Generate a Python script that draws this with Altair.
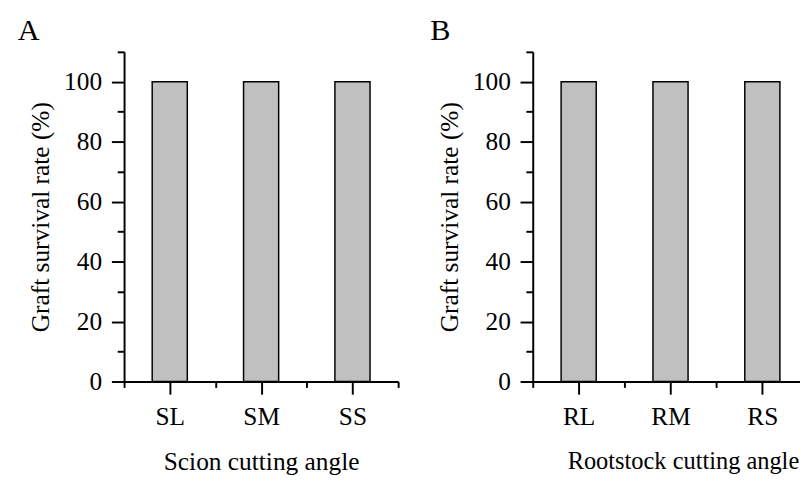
import altair as alt
import pandas as pd

# ---- data ----
scion_labels = ["SL", "SM", "SS"]
scion_rates = [100, 100, 100]
root_labels = ["RL", "RM", "RS"]
root_rates = [100, 100, 100]
y_ticks = [0, 10, 20, 30, 40, 50, 60, 70, 80, 90, 100, 110]

FONT = "Liberation Serif"


def label_expr(labels):
    parts = " : ".join(
        f"datum.value === {i + 1} ? '{lab}'" for i, lab in enumerate(labels)
    )
    return parts + " : ''"


def panel(letter, labels, rates, xtitle, width, xmax, title_x=None, title_size=26,
          t_offset=-8, t_dx=-8):
    df = pd.DataFrame({"pos": list(range(1, len(labels) + 1)),
                       "cat": labels, "rate": rates})
    xvals = [v / 2 for v in range(1, 2 * len(labels) + 2) if v / 2 <= xmax]
    xaxis_kw = dict(
        values=xvals,
        labelExpr=label_expr(labels),
        tickSize={"condition": {"test": "datum.value % 1 === 0", "value": 13}, "value": 6},
        labelOverlap=False,
        labelFlush=False,
        labelPadding=10,
        title=xtitle,
        titleFontSize=title_size,
        titlePadding=20,
        grid=False,
    )
    if title_x is not None:
        xaxis_kw["titleX"] = title_x
    chart = alt.Chart(df).mark_bar(
        size=36, fill="#c0c0c0", stroke="black", strokeWidth=1.5
    ).encode(
        x=alt.X("pos:Q",
                scale=alt.Scale(domain=[0.5, xmax], nice=False, zero=False, padding=0),
                axis=alt.Axis(**xaxis_kw)),
        y=alt.Y("rate:Q",
                scale=alt.Scale(domain=[0, 110], nice=False, padding=0),
                axis=alt.Axis(
                    values=y_ticks,
                    labelExpr="datum.value % 20 === 0 ? datum.label : ''",
                    tickSize={"condition": {"test": "datum.value % 20 === 0", "value": 13}, "value": 7},
                    labelOverlap=False,
                    labelFlush=False,
                    labelPadding=10,
                    title="Graft survival rate (%)",
                    titlePadding=10,
                    grid=False,
                )),
    ).properties(
        width=width,
        height=338,
        title=alt.TitleParams(letter, anchor="start", frame="bounds", fontSize=31,
                              font=FONT, fontWeight="normal", color="black",
                              offset=t_offset, dx=t_dx),
    )
    return chart


a = panel("A", scion_labels, scion_rates, "Scion cutting angle", 281, 3.5,
          t_dx=-11)
b = panel("B", root_labels, root_rates, "Rootstock cutting angle", 274, 3.41,
          title_x=154, title_size=25, t_dx=-7)

chart = alt.hconcat(a, b, spacing=32).properties(
    padding={"left": 10, "top": 2, "right": 0, "bottom": 0},
    background="white",
).configure_view(stroke=None).configure_axis(
    domainColor="black", domainWidth=2, tickColor="black", tickWidth=2,
    labelFont=FONT, labelFontSize=26, labelColor="black",
    titleFont=FONT, titleFontSize=26, titleFontWeight="normal", titleColor="black",
)

chart.save("out.html", embed_options={"renderer": "svg", "actions": False})
